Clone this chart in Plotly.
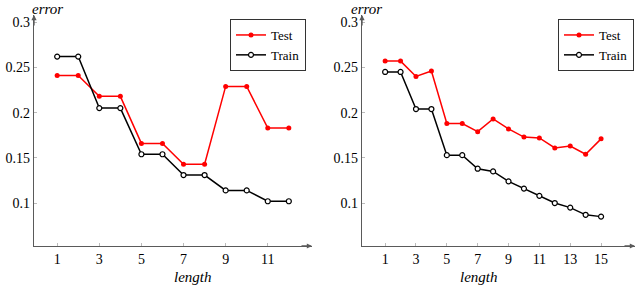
import plotly.graph_objects as go

# Left chart data
len_left = [1, 2, 3, 4, 5, 6, 7, 8, 9, 10, 11, 12]
test_left = [0.241, 0.241, 0.218, 0.218, 0.166, 0.166, 0.143, 0.143, 0.229, 0.229, 0.183, 0.183]
train_left = [0.262, 0.262, 0.205, 0.205, 0.154, 0.154, 0.131, 0.131, 0.114, 0.114, 0.102, 0.102]

# Right chart data
len_right = list(range(1, 16))
test_right = [0.257, 0.257, 0.240, 0.246, 0.188, 0.188, 0.179, 0.193, 0.182, 0.173, 0.172, 0.161, 0.163, 0.154, 0.171]
train_right = [0.245, 0.245, 0.204, 0.204, 0.153, 0.153, 0.138, 0.135, 0.124, 0.116, 0.108, 0.100, 0.095, 0.087, 0.085]

left_xticks = [1, 3, 5, 7, 9, 11]
right_xticks = [1, 3, 5, 7, 9, 11, 13, 15]
y_ticks = [0.1, 0.15, 0.2, 0.25, 0.3]
y_ticklabels = ["0.1", "0.15", "0.2", "0.25", "0.3"]

W, H = 640, 286
FONT = "'Liberation Serif', 'DejaVu Serif', serif"
AXC = "#5a5a5a"

fig = go.Figure()

def add_series(x, test, train, xa, ya, leg):
    fig.add_trace(go.Scatter(x=x, y=test, name="Test", mode="lines+markers",
                             line=dict(color="#ff0000", width=1.5),
                             marker=dict(symbol="circle", size=5, color="#ff0000"),
                             xaxis=xa, yaxis=ya, legend=leg))
    fig.add_trace(go.Scatter(x=x, y=train, name="Train", mode="lines+markers",
                             line=dict(color="#000000", width=1.5),
                             marker=dict(symbol="circle", size=5, color="white",
                                         line=dict(color="black", width=1.2)),
                             xaxis=xa, yaxis=ya, legend=leg))

add_series(len_left, test_left, train_left, "x", "y", "legend")
add_series(len_right, test_right, train_right, "x2", "y2", "legend2")

ydom = [1 - 246 / H, 1 - 15 / H]
yrange = [0.0525, 0.308]

axis_common = dict(showline=True, linecolor=AXC, linewidth=1.3, showgrid=False, zeroline=False,
                   ticks="inside", ticklen=3, tickcolor="#bbbbbb", tickwidth=1, automargin=False,
                   tickfont=dict(family=FONT, size=14, color="black"), mirror=False)

leg_common = dict(xanchor="right", yanchor="top", bordercolor="#333333", borderwidth=1,
                  bgcolor="white", font=dict(family=FONT, size=13, color="black"),
                  tracegroupgap=0, itemwidth=30)

fig.update_layout(
    width=W, height=H, margin=dict(l=0, r=0, t=0, b=0, autoexpand=False),
    paper_bgcolor="white", plot_bgcolor="white",
    xaxis=dict(domain=[34 / W, 312 / W], range=[-0.1, 13.1], tickvals=left_xticks,
               anchor="y", **axis_common),
    yaxis=dict(domain=ydom, range=yrange, tickvals=y_ticks, ticktext=y_ticklabels,
               anchor="x", **axis_common),
    xaxis2=dict(domain=[362 / W, 635 / W], range=[-0.5, 17.2], tickvals=right_xticks,
                anchor="y2", **axis_common),
    yaxis2=dict(domain=ydom, range=yrange, tickvals=y_ticks, ticktext=y_ticklabels,
                anchor="x2", **axis_common),
    legend=dict(x=306 / W, y=1 - 19 / H, **leg_common),
    legend2=dict(x=634 / W, y=1 - 19 / H, **leg_common),
)

annots = []
for xd, yd in (("x domain", "y domain"), ("x2 domain", "y2 domain")):
    annots.append(dict(xref=xd, yref=yd, x=1, y=0, ax=-12, ay=0, showarrow=True,
                       arrowhead=2, arrowsize=0.8, arrowwidth=1.3, arrowcolor=AXC, text=""))
    annots.append(dict(xref=xd, yref=yd, x=0, y=1, ax=0, ay=12, showarrow=True,
                       arrowhead=2, arrowsize=0.8, arrowwidth=1.3, arrowcolor=AXC, text=""))

lab_font = dict(family=FONT, size=15, color="black")
annots.append(dict(xref="paper", yref="paper", x=30 / W, y=1, yshift=1, yanchor="top",
                   text="<i>error</i>", showarrow=False, font=lab_font))
annots.append(dict(xref="paper", yref="paper", x=366 / W, y=1, yshift=1, yanchor="top",
                   text="<i>error</i>", showarrow=False, font=lab_font))
annots.append(dict(xref="paper", yref="paper", x=172 / W, y=1 - 277 / H, yanchor="middle",
                   text="<i>length</i>", showarrow=False, font=lab_font))
annots.append(dict(xref="paper", yref="paper", x=500 / W, y=1 - 277 / H, yanchor="middle",
                   text="<i>length</i>", showarrow=False, font=lab_font))
fig.update_layout(annotations=annots)

fig.write_html("out.html", config={"displayModeBar": False},
               post_script="document.body.style.margin='0';document.body.style.padding='0';document.body.style.overflow='hidden';")
